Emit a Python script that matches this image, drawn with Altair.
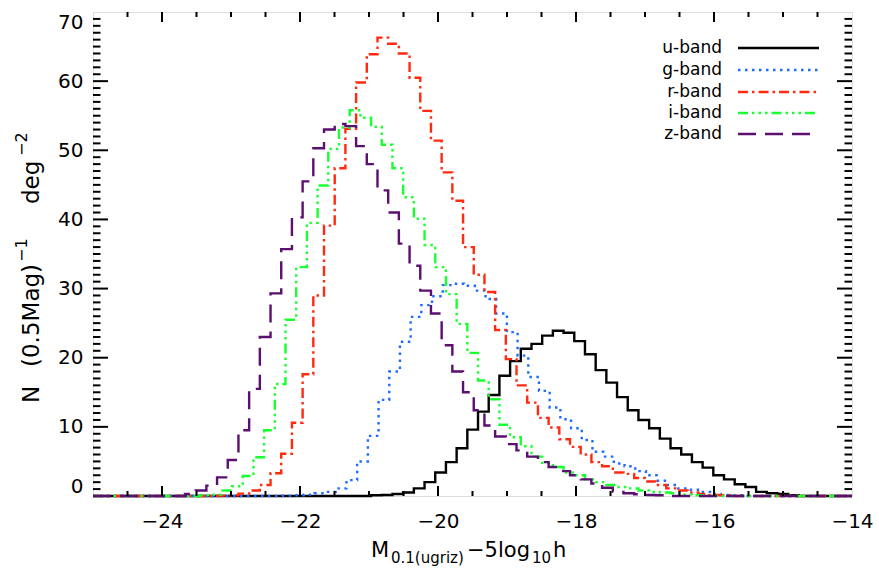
import altair as alt
import pandas as pd

# ---------------- data ----------------
BIN_WIDTH = 0.155          # magnitude bin width
X_MIN, X_MAX = -25.0, -14.0

bands = ["u-band", "g-band", "r-band", "i-band", "z-band"]
colors = ["#000000", "#1f6bff", "#ff2a10", "#19ff30", "#5b0f70"]
dashes = [[1, 0], [2.5, 4.5], [10, 4, 2.5, 4], [10, 4, 2.5, 4, 2.5, 4, 2.5, 4], [18, 9]]
bin_offset = [0.0, 0.7, 0.6, 0.0, 0.6]   # bin grid offset (in bins) per band
first_bin = [26, 17, 11, 10, 8]

u_vals = [0.1, 0.15, 0.3, 0.5, 1.1, 2.0, 3.4, 4.9, 6.9, 9.6, 12.2, 14.6, 17.4, 19.5,
          21.3, 22.0, 23.2, 23.9, 23.6, 22.4, 20.5, 18.2, 16.4, 14.3, 12.4, 11.0, 9.8,
          8.3, 6.9, 6.0, 4.9, 4.1, 3.0, 2.4, 1.7, 1.3, 0.6, 0.4, 0.3, 0.1]
g_vals = [0.05, 0.1, 0.2, 0.4, 0.6, 1.1, 2.3, 5.0, 8.7, 13.9, 18.0, 22.3, 25.9, 27.6,
          28.9, 30.5, 30.7, 30.4, 29.7, 28.5, 26.4, 23.7, 20.3, 17.2, 15.2, 12.8, 11.1,
          9.8, 8.1, 6.4, 5.7, 4.7, 4.3, 3.6, 3.0, 2.2, 1.6, 1.1, 0.9, 0.6, 0.3, 0.15, 0.1]
r_vals = [0.05, 0.1, 0.35, 0.8, 1.6, 3.3, 6.1, 10.6, 17.6, 29.0, 39.1, 47.4, 53.1,
          59.8, 63.9, 66.3, 65.4, 64.0, 60.5, 55.7, 51.4, 46.8, 42.7, 36.0, 32.0, 29.5,
          24.0, 19.8, 16.0, 13.5, 11.3, 9.9, 8.2, 7.1, 6.0, 4.9, 4.3, 3.4, 3.2, 2.6, 2.1,
          1.6, 1.1, 0.8, 0.5, 0.3, 0.15, 0.1]
i_vals = [0.1, 0.2, 0.8, 1.4, 2.9, 5.6, 9.5, 16.2, 25.5, 33.1, 39.5, 44.9, 50.2, 53.3,
          55.8, 54.7, 53.4, 50.8, 47.4, 43.2, 40.1, 36.3, 33.1, 29.2, 24.9, 20.7, 16.7,
          14.0, 10.3, 8.5, 7.2, 5.7, 4.8, 4.2, 3.4, 3.0, 2.4, 2.0, 1.6, 1.3, 1.1, 0.8,
          0.6, 0.5, 0.4, 0.2, 0.1]
z_vals = [0.3, 0.8, 1.5, 2.7, 5.2, 9.5, 15.5, 23.0, 29.3, 35.7, 40.3, 45.5, 50.3, 53.0,
          53.8, 53.5, 50.6, 48.0, 44.2, 41.0, 36.5, 33.3, 29.7, 26.4, 21.8, 18.0, 15.0,
          12.4, 10.2, 8.6, 7.5, 6.6, 5.7, 4.9, 4.2, 3.6, 3.0, 2.4, 1.8, 1.2, 0.6, 0.4,
          0.25, 0.15, 0.1]
series_vals = [u_vals, g_vals, r_vals, i_vals, z_vals]

x_major = [-24, -22, -20, -18, -16, -14]
y_major = [0, 10, 20, 30, 40, 50, 60, 70]

# ---------------- layout ----------------
W, H = 759, 484
FONT = "DejaVu Sans"

xscale = alt.Scale(domain=[X_MIN, X_MAX], clamp=True, nice=False, zero=False)
yscale = alt.Scale(domain=[0, 70], nice=False, zero=True)

XAX = alt.Axis(values=x_major, ticks=False, tickSize=0, domain=False, grid=False,
               labelFont=FONT, labelFontSize=20, labelColor="black",
               labelPadding=15, labelFlush=False, title=None)
YAX = alt.Axis(values=y_major, ticks=False, tickSize=0, domain=False, grid=False,
               labelFont=FONT, labelFontSize=20, labelColor="black",
               labelPadding=10, labelFlush=True, title=None)


def step_frame(vals, first, off):
    rows = []
    n_bins = int(round((X_MAX - X_MIN) / BIN_WIDTH)) + 2
    for k in range(-1, n_bins):
        j = k - first
        v = vals[j] if 0 <= j < len(vals) else 0.0
        rows.append({"x": X_MIN + (k + off) * BIN_WIDTH, "n": v, "o": k})
    last = rows[-1]
    rows.append({"x": last["x"] + BIN_WIDTH, "n": last["n"], "o": n_bins})
    return pd.DataFrame(rows)


layers = []
for idx, b in enumerate(bands):
    df = step_frame(series_vals[idx], first_bin[idx], bin_offset[idx])
    layers.append(
        alt.Chart(df).mark_line(interpolate="step-after", color=colors[idx],
                                strokeDash=dashes[idx], strokeWidth=2.4)
        .encode(x=alt.X("x:Q", scale=xscale, axis=XAX),
                y=alt.Y("n:Q", scale=yscale, axis=YAX),
                order="o:Q")
    )

# tick marks (IDL style, inside the box on all four sides)
x_minor = [v / 2 for v in range(-49, -28) if v % 4 != 0]
y_minor = [v for v in range(1, 70) if v % 10 != 0]
xt_major = pd.DataFrame({"x": [-24, -22, -20, -18, -16]})
xt_minor = pd.DataFrame({"x": x_minor})
yt_major = pd.DataFrame({"n": y_major[1:-1]})
yt_minor = pd.DataFrame({"n": y_minor})

def xticks(df, length):
    base = alt.Chart(df).mark_rule(color="black", strokeWidth=2)
    xs = alt.X("x:Q", scale=xscale, axis=XAX)
    return [base.encode(x=xs, y=alt.value(H), y2=alt.value(H - length)),
            base.encode(x=xs, y=alt.value(0), y2=alt.value(length))]

def yticks(df, length):
    base = alt.Chart(df).mark_rule(color="black", strokeWidth=2)
    ys = alt.Y("n:Q", scale=yscale, axis=YAX)
    return [base.encode(y=ys, x=alt.value(0), x2=alt.value(length)),
            base.encode(y=ys, x=alt.value(W), x2=alt.value(W - length))]

tick_layers = xticks(xt_major, 10) + xticks(xt_minor, 5) + yticks(yt_major, 15) + yticks(yt_minor, 7.5)

one = pd.DataFrame({"a": [0]})

def txt(text, x, y, size, align="left", angle=0, baseline="alphabetic"):
    kw = dict(text=text, font=FONT, fontSize=size, color="black", align=align, baseline=baseline)
    if angle:
        kw["angle"] = angle
    return alt.Chart(one).mark_text(**kw).encode(x=alt.value(x), y=alt.value(y))

# x-axis title: M_{0.1(ugriz)} - 5 log_{10} h
title_layers = [
    txt("M", 278, 545, 21),
    txt("0.1(ugriz)", 298, 551, 15),
    txt("\u22125log", 374, 545, 21),
    txt("10", 439, 551, 15),
    txt("h", 460, 545, 21),
]
# y-axis title: N (0.5Mag)^-1 deg^-2  (rotated, reading upwards)
title_layers += [
    txt("N", -54, 391, 23, angle=270),
    txt("(0.5Mag)", -54, 355, 23, angle=270),
    txt("\u22121", -66, 250, 16, angle=270),
    txt("deg", -54, 192, 23, angle=270),
    txt("\u22122", -66, 144, 16, angle=270),
]

# legend
legend_layers = []
row_y = [36, 58, 80, 101, 122]
for idx, b in enumerate(bands):
    legend_layers.append(txt(b, 629, row_y[idx], 17, align="right", baseline="middle"))
    legend_layers.append(
        alt.Chart(one).mark_rule(color=colors[idx], strokeDash=dashes[idx], strokeWidth=2.4)
        .encode(x=alt.value(645), x2=alt.value(726), y=alt.value(row_y[idx]))
    )

chart = alt.layer(*layers, *tick_layers, *title_layers, *legend_layers).properties(
    width=W, height=H,
    autosize=alt.AutoSizeParams(type="none"),
    padding={"left": 93, "top": 12, "right": 27, "bottom": 79},
).configure_view(stroke="black", strokeWidth=2.5).configure(background="white")

chart.save("out.html", embed_options={"renderer": "svg", "actions": False})
